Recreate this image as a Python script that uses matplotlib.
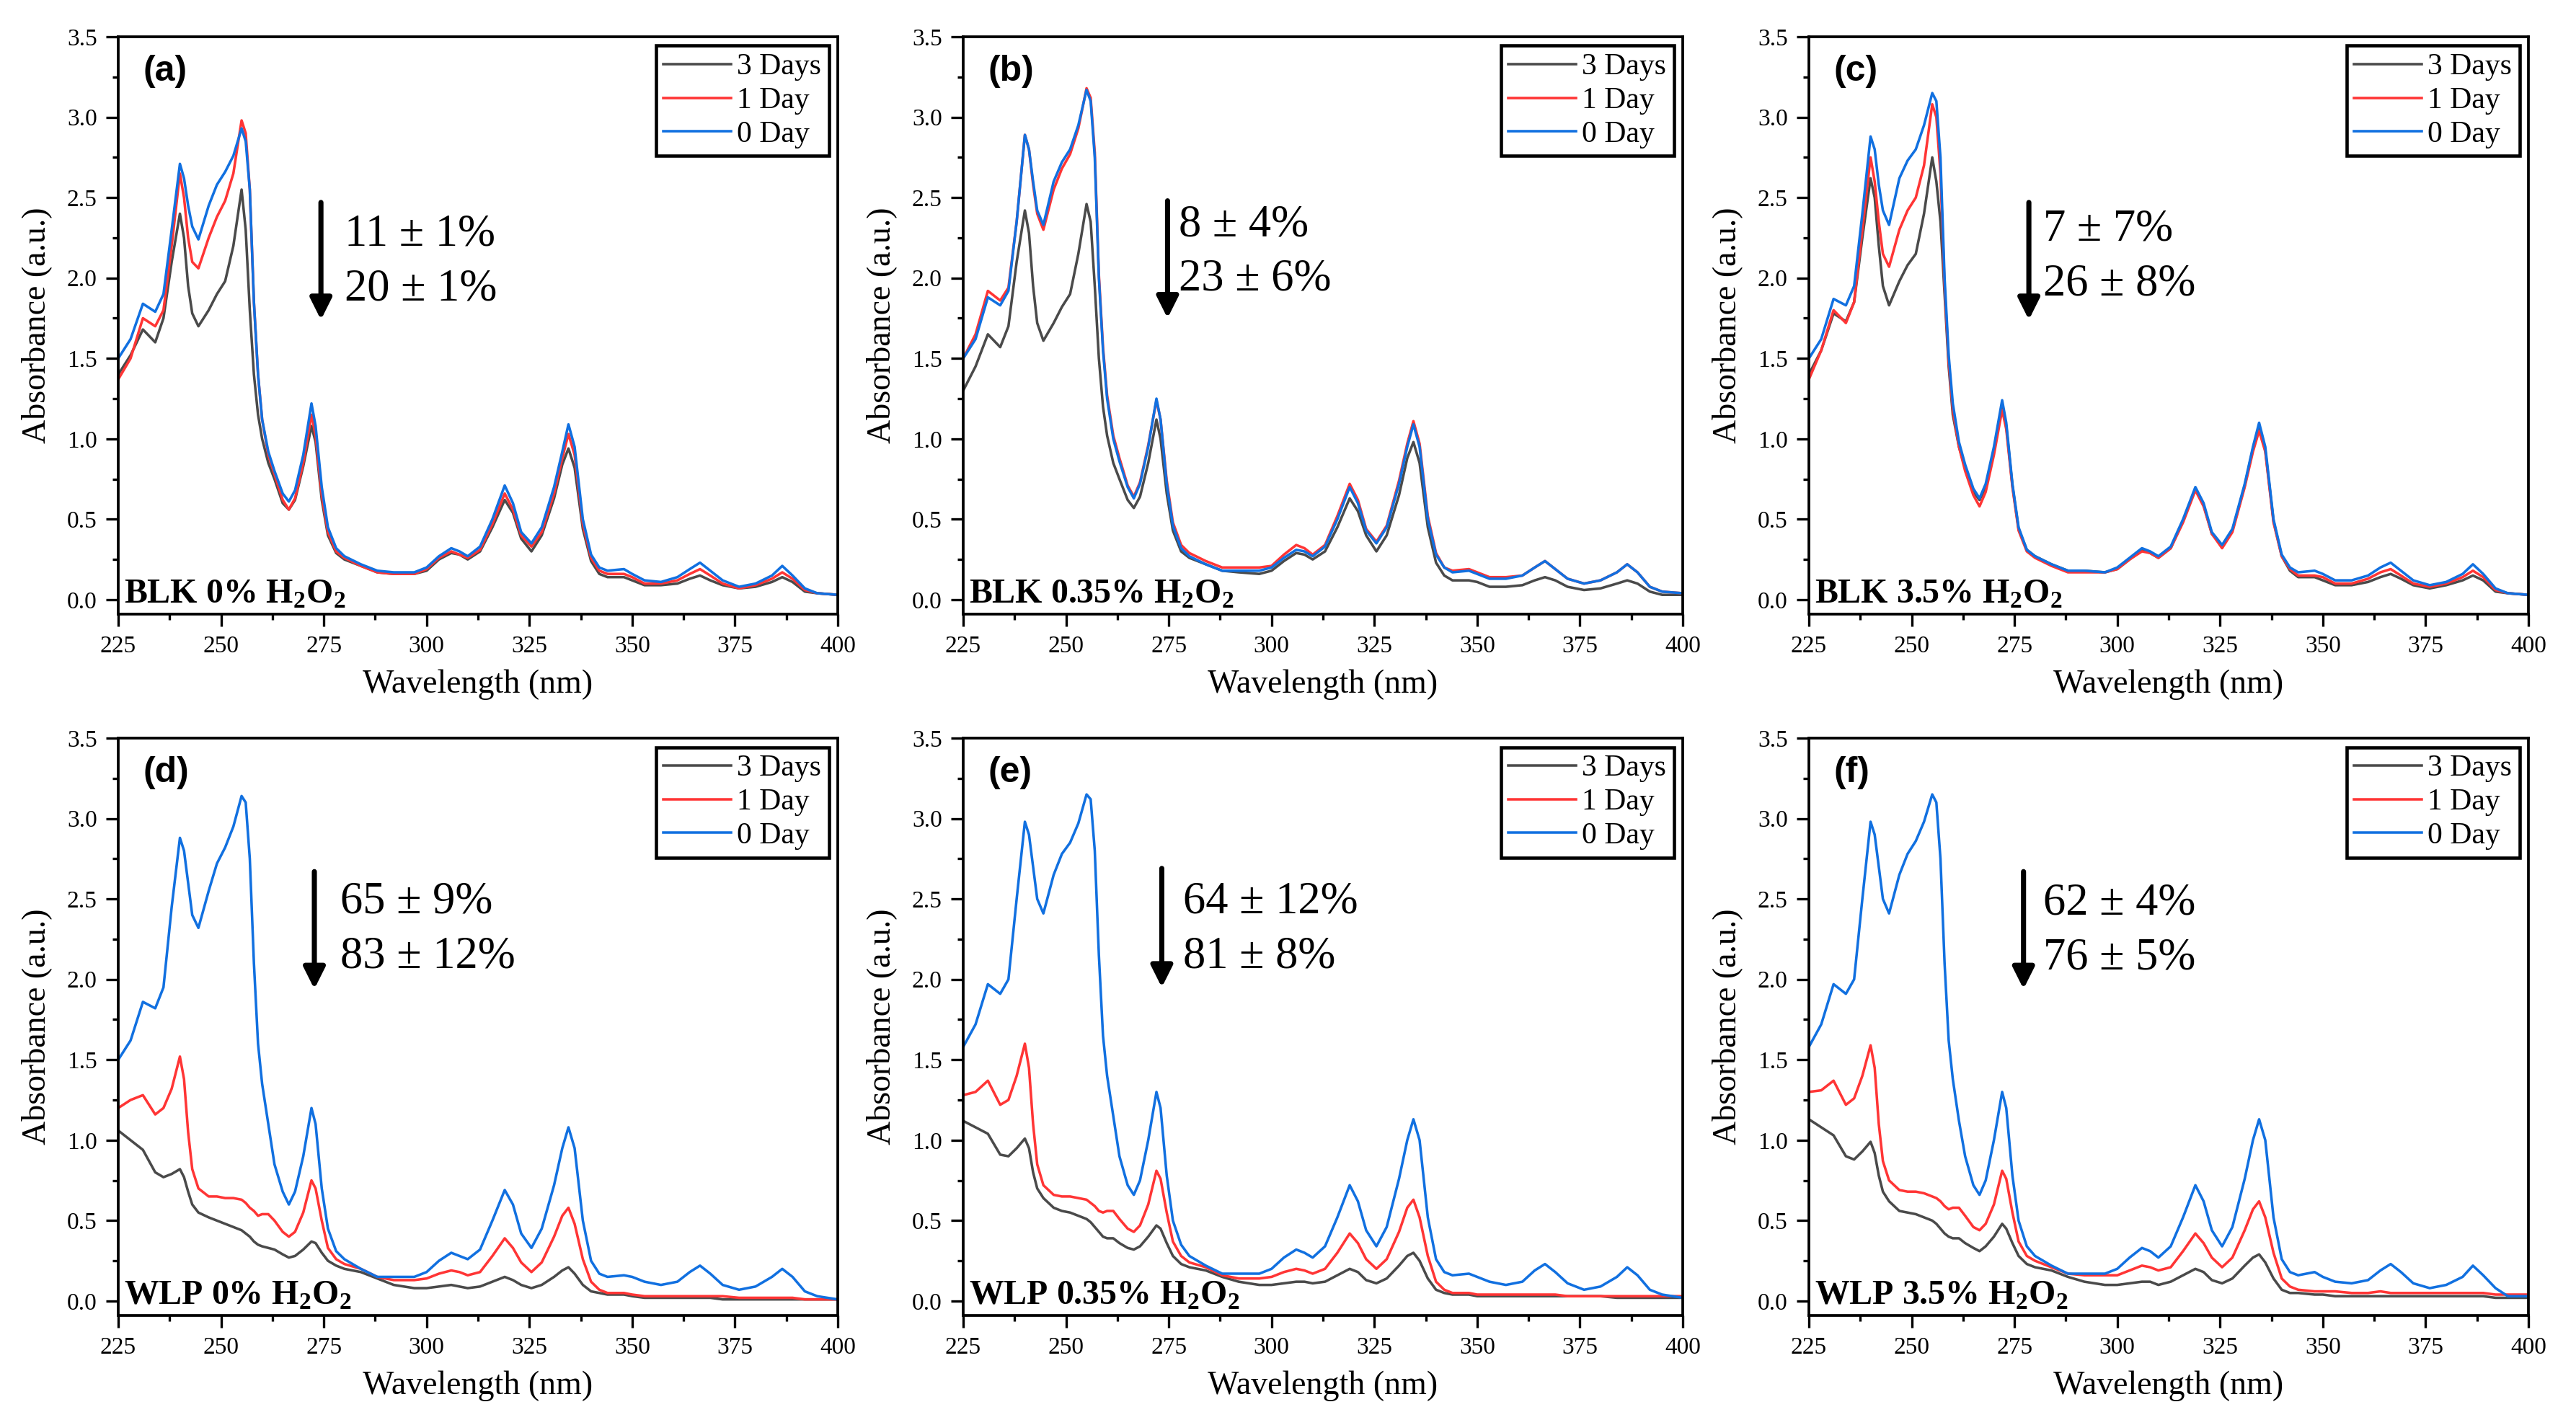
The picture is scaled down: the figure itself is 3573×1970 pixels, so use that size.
import matplotlib
matplotlib.use("Agg")
import matplotlib.pyplot as plt
from matplotlib.ticker import MultipleLocator
from matplotlib import font_manager

# make sure the serif font really exists (fails loudly otherwise)
font_manager.findfont('Liberation Serif', fallback_to_default=False)
font_manager.findfont('Liberation Sans', fallback_to_default=False)

plt.rcParams['font.family'] = ['Liberation Serif', 'DejaVu Serif']
plt.rcParams['mathtext.fontset'] = 'custom'
plt.rcParams['mathtext.rm'] = 'Liberation Serif'
plt.rcParams['mathtext.bf'] = 'Liberation Serif:bold'

# ---------------- data ----------------
wavelength = [225, 228, 231, 234, 236, 238,
              240, 241, 242, 243, 244.5,
              247, 249, 251, 253, 255,
              256, 257, 258, 259, 260,
              261.5, 263, 265, 266.5, 268,
              270, 272, 273, 274.5, 276,
              278, 280, 284, 288, 292,
              297, 300, 303, 306, 308,
              310, 313, 316, 319, 321,
              323, 325.5, 328, 331, 333,
              334.5, 336, 338, 340, 342,
              344, 348, 350, 353, 357,
              361, 364, 366.5, 369, 372,
              376, 380, 384, 386.5, 389,
              392, 395, 400]

series_labels = ["3 Days", "1 Day", "0 Day"]
series_colors = ["#4a4a4a", "#ff3535", "#1170e0"]

panel_letters = ["(a)", "(b)", "(c)", "(d)", "(e)", "(f)"]
panel_names = ["BLK 0% H$_\\mathbf{2}$O$_\\mathbf{2}$",
               "BLK 0.35% H$_\\mathbf{2}$O$_\\mathbf{2}$",
               "BLK 3.5% H$_\\mathbf{2}$O$_\\mathbf{2}$",
               "WLP 0% H$_\\mathbf{2}$O$_\\mathbf{2}$",
               "WLP 0.35% H$_\\mathbf{2}$O$_\\mathbf{2}$",
               "WLP 3.5% H$_\\mathbf{2}$O$_\\mathbf{2}$"]
loss_line1 = ["11 \u00b1 1%", "8 \u00b1 4%", "7 \u00b1 7%",
              "65 \u00b1 9%", "64 \u00b1 12%", "62 \u00b1 4%"]
loss_line2 = ["20 \u00b1 1%", "23 \u00b1 6%", "26 \u00b1 8%",
              "83 \u00b1 12%", "81 \u00b1 8%", "76 \u00b1 5%"]

# (a) BLK 0% H2O2
blk0_3d = [1.40, 1.52, 1.68, 1.60, 1.75, 2.10,
           2.40, 2.25, 1.95, 1.78, 1.70,
           1.80, 1.90, 1.98, 2.20, 2.55,
           2.30, 1.80, 1.40, 1.15, 1.00,
           0.85, 0.75, 0.60, 0.56, 0.62,
           0.83, 1.08, 0.98, 0.62, 0.40,
           0.29, 0.25, 0.21, 0.17, 0.16,
           0.16, 0.18, 0.25, 0.29, 0.28,
           0.25, 0.30, 0.45, 0.62, 0.54,
           0.38, 0.30, 0.40, 0.63, 0.84,
           0.94, 0.82, 0.44, 0.24, 0.16,
           0.14, 0.14, 0.12, 0.09, 0.09,
           0.10, 0.13, 0.15, 0.12, 0.09,
           0.07, 0.08, 0.11, 0.14, 0.11,
           0.05, 0.04, 0.03]
blk0_1d = [1.37, 1.50, 1.75, 1.70, 1.80, 2.20,
           2.65, 2.50, 2.25, 2.10, 2.06,
           2.25, 2.38, 2.48, 2.65, 2.98,
           2.90, 2.55, 1.85, 1.40, 1.12,
           0.90, 0.78, 0.62, 0.56, 0.63,
           0.85, 1.15, 1.02, 0.65, 0.42,
           0.30, 0.26, 0.21, 0.17, 0.16,
           0.16, 0.19, 0.26, 0.30, 0.28,
           0.26, 0.31, 0.47, 0.66, 0.56,
           0.40, 0.33, 0.42, 0.66, 0.88,
           1.03, 0.90, 0.47, 0.26, 0.18,
           0.16, 0.16, 0.14, 0.10, 0.10,
           0.12, 0.16, 0.19, 0.15, 0.10,
           0.07, 0.09, 0.13, 0.17, 0.13,
           0.06, 0.04, 0.03]
blk0_0d = [1.50, 1.62, 1.84, 1.79, 1.90, 2.30,
           2.71, 2.62, 2.45, 2.32, 2.24,
           2.45, 2.58, 2.66, 2.76, 2.93,
           2.85, 2.55, 1.85, 1.40, 1.12,
           0.92, 0.80, 0.66, 0.61, 0.68,
           0.90, 1.22, 1.08, 0.70, 0.45,
           0.32, 0.27, 0.22, 0.18, 0.17,
           0.17, 0.20, 0.27, 0.32, 0.30,
           0.27, 0.33, 0.50, 0.71, 0.60,
           0.42, 0.35, 0.45, 0.70, 0.92,
           1.09, 0.95, 0.50, 0.28, 0.20,
           0.18, 0.19, 0.16, 0.12, 0.11,
           0.14, 0.19, 0.23, 0.18, 0.12,
           0.08, 0.10, 0.15, 0.21, 0.15,
           0.07, 0.04, 0.03]

# (b) BLK 0.35% H2O2
blk035_3d = [1.30, 1.45, 1.65, 1.57, 1.70, 2.10,
             2.42, 2.28, 1.95, 1.72, 1.61,
             1.72, 1.82, 1.90, 2.15, 2.46,
             2.35, 1.95, 1.50, 1.20, 1.02,
             0.85, 0.75, 0.62, 0.57, 0.64,
             0.85, 1.12, 1.00, 0.66, 0.43,
             0.30, 0.26, 0.22, 0.18, 0.17,
             0.16, 0.18, 0.24, 0.29, 0.28,
             0.25, 0.30, 0.45, 0.63, 0.55,
             0.40, 0.30, 0.40, 0.65, 0.88,
             0.98, 0.85, 0.45, 0.23, 0.15,
             0.12, 0.12, 0.11, 0.08, 0.08,
             0.09, 0.12, 0.14, 0.12, 0.08,
             0.06, 0.07, 0.10, 0.12, 0.10,
             0.05, 0.03, 0.03]
blk035_1d = [1.50, 1.65, 1.92, 1.86, 1.94, 2.35,
             2.89, 2.80, 2.58, 2.40, 2.30,
             2.55, 2.68, 2.77, 2.93, 3.18,
             3.12, 2.78, 2.02, 1.57, 1.27,
             1.02, 0.88, 0.71, 0.64, 0.73,
             0.96, 1.24, 1.12, 0.74, 0.48,
             0.34, 0.29, 0.24, 0.20, 0.20,
             0.20, 0.21, 0.28, 0.34, 0.32,
             0.28, 0.34, 0.52, 0.72, 0.62,
             0.44, 0.36, 0.46, 0.74, 0.97,
             1.11, 0.97, 0.52, 0.29, 0.20,
             0.18, 0.19, 0.17, 0.14, 0.14,
             0.15, 0.20, 0.24, 0.19, 0.13,
             0.10, 0.12, 0.17, 0.22, 0.17,
             0.08, 0.05, 0.04]
blk035_0d = [1.50, 1.62, 1.88, 1.83, 1.92, 2.35,
             2.89, 2.80, 2.60, 2.42, 2.33,
             2.60, 2.72, 2.80, 2.95, 3.17,
             3.10, 2.75, 2.00, 1.55, 1.25,
             1.00, 0.86, 0.70, 0.63, 0.72,
             0.95, 1.25, 1.12, 0.72, 0.46,
             0.32, 0.27, 0.22, 0.18, 0.18,
             0.18, 0.20, 0.26, 0.31, 0.30,
             0.27, 0.33, 0.50, 0.70, 0.60,
             0.43, 0.35, 0.45, 0.72, 0.95,
             1.09, 0.95, 0.50, 0.28, 0.20,
             0.17, 0.18, 0.16, 0.13, 0.13,
             0.15, 0.20, 0.24, 0.19, 0.13,
             0.10, 0.12, 0.17, 0.22, 0.17,
             0.08, 0.05, 0.04]

# (c) BLK 3.5% H2O2
blk35_3d = [1.40, 1.55, 1.78, 1.73, 1.85, 2.25,
            2.62, 2.50, 2.20, 1.95, 1.83,
            1.98, 2.08, 2.15, 2.40, 2.75,
            2.60, 2.35, 1.90, 1.45, 1.15,
            0.95, 0.82, 0.67, 0.62, 0.70,
            0.93, 1.22, 1.08, 0.71, 0.44,
            0.31, 0.27, 0.22, 0.18, 0.18,
            0.17, 0.19, 0.25, 0.31, 0.29,
            0.26, 0.32, 0.49, 0.69, 0.59,
            0.41, 0.33, 0.43, 0.71, 0.94,
            1.08, 0.93, 0.49, 0.27, 0.18,
            0.14, 0.14, 0.12, 0.09, 0.09,
            0.11, 0.14, 0.16, 0.13, 0.09,
            0.07, 0.09, 0.12, 0.15, 0.12,
            0.05, 0.04, 0.03]
blk35_1d = [1.37, 1.55, 1.80, 1.72, 1.85, 2.30,
            2.75, 2.60, 2.35, 2.15, 2.07,
            2.30, 2.42, 2.50, 2.70, 3.08,
            3.00, 2.65, 1.95, 1.48, 1.18,
            0.95, 0.80, 0.65, 0.58, 0.67,
            0.90, 1.18, 1.06, 0.70, 0.43,
            0.30, 0.26, 0.21, 0.17, 0.17,
            0.17, 0.19, 0.25, 0.30, 0.29,
            0.26, 0.32, 0.48, 0.68, 0.58,
            0.41, 0.32, 0.42, 0.70, 0.92,
            1.05, 0.92, 0.48, 0.27, 0.19,
            0.15, 0.15, 0.14, 0.10, 0.10,
            0.13, 0.17, 0.19, 0.15, 0.10,
            0.08, 0.10, 0.14, 0.18, 0.14,
            0.06, 0.04, 0.03]
blk35_0d = [1.50, 1.62, 1.87, 1.83, 1.95, 2.40,
            2.88, 2.80, 2.58, 2.42, 2.33,
            2.62, 2.73, 2.80, 2.95, 3.15,
            3.10, 2.75, 2.00, 1.52, 1.22,
            0.98, 0.84, 0.69, 0.63, 0.72,
            0.95, 1.24, 1.10, 0.72, 0.45,
            0.31, 0.27, 0.22, 0.18, 0.18,
            0.17, 0.20, 0.26, 0.32, 0.30,
            0.27, 0.33, 0.50, 0.70, 0.60,
            0.42, 0.34, 0.44, 0.72, 0.95,
            1.10, 0.95, 0.50, 0.28, 0.20,
            0.17, 0.18, 0.16, 0.12, 0.12,
            0.15, 0.20, 0.23, 0.18, 0.12,
            0.09, 0.11, 0.16, 0.22, 0.16,
            0.07, 0.04, 0.03]

# (d) WLP 0% H2O2
wlp0_3d = [1.06, 1.00, 0.94, 0.80, 0.77, 0.79,
           0.82, 0.77, 0.68, 0.60, 0.55,
           0.52, 0.50, 0.48, 0.46, 0.44,
           0.42, 0.40, 0.37, 0.35, 0.34,
           0.33, 0.32, 0.29, 0.27, 0.28,
           0.32, 0.37, 0.36, 0.30, 0.25,
           0.22, 0.20, 0.18, 0.14, 0.10,
           0.08, 0.08, 0.09, 0.10, 0.09,
           0.08, 0.09, 0.12, 0.15, 0.13,
           0.10, 0.08, 0.10, 0.15, 0.19,
           0.21, 0.17, 0.10, 0.06, 0.05,
           0.04, 0.04, 0.03, 0.02, 0.02,
           0.02, 0.02, 0.02, 0.02, 0.01,
           0.01, 0.01, 0.01, 0.01, 0.01,
           0.01, 0.01, 0.01]
wlp0_1d = [1.20, 1.25, 1.28, 1.16, 1.20, 1.32,
           1.52, 1.38, 1.05, 0.82, 0.70,
           0.65, 0.65, 0.64, 0.64, 0.63,
           0.61, 0.58, 0.56, 0.53, 0.54,
           0.54, 0.50, 0.43, 0.40, 0.43,
           0.55, 0.75, 0.70, 0.50, 0.33,
           0.26, 0.23, 0.20, 0.15, 0.13,
           0.13, 0.14, 0.17, 0.19, 0.18,
           0.16, 0.18, 0.28, 0.39, 0.33,
           0.24, 0.18, 0.24, 0.40, 0.53,
           0.58, 0.48, 0.26, 0.12, 0.07,
           0.05, 0.05, 0.04, 0.03, 0.03,
           0.03, 0.03, 0.03, 0.03, 0.03,
           0.02, 0.02, 0.02, 0.02, 0.02,
           0.01, 0.01, 0.01]
wlp0_0d = [1.50, 1.62, 1.86, 1.82, 1.95, 2.45,
           2.88, 2.80, 2.60, 2.40, 2.32,
           2.55, 2.72, 2.82, 2.95, 3.14,
           3.10, 2.75, 2.10, 1.60, 1.35,
           1.10, 0.85, 0.68, 0.60, 0.68,
           0.90, 1.20, 1.10, 0.70, 0.45,
           0.31, 0.26, 0.20, 0.15, 0.15,
           0.15, 0.18, 0.25, 0.30, 0.28,
           0.26, 0.32, 0.50, 0.69, 0.60,
           0.42, 0.33, 0.45, 0.72, 0.95,
           1.08, 0.95, 0.50, 0.25, 0.17,
           0.15, 0.16, 0.15, 0.12, 0.10,
           0.12, 0.18, 0.22, 0.17, 0.10,
           0.07, 0.09, 0.15, 0.20, 0.15,
           0.06, 0.03, 0.01]

# (e) WLP 0.35% H2O2
wlp035_3d = [1.12, 1.08, 1.04, 0.91, 0.90, 0.95,
             1.01, 0.95, 0.80, 0.70, 0.64,
             0.58, 0.56, 0.55, 0.53, 0.51,
             0.49, 0.46, 0.43, 0.40, 0.39,
             0.39, 0.36, 0.33, 0.32, 0.34,
             0.40, 0.47, 0.45, 0.36, 0.28,
             0.23, 0.21, 0.19, 0.15, 0.12,
             0.10, 0.10, 0.11, 0.12, 0.12,
             0.11, 0.12, 0.16, 0.20, 0.18,
             0.13, 0.11, 0.14, 0.22, 0.28,
             0.30, 0.25, 0.14, 0.07, 0.05,
             0.04, 0.04, 0.03, 0.03, 0.03,
             0.03, 0.03, 0.03, 0.03, 0.03,
             0.03, 0.03, 0.02, 0.02, 0.02,
             0.02, 0.02, 0.02]
wlp035_1d = [1.28, 1.30, 1.37, 1.22, 1.25, 1.40,
             1.60, 1.45, 1.10, 0.85, 0.72,
             0.66, 0.65, 0.65, 0.64, 0.63,
             0.61, 0.59, 0.56, 0.55, 0.56,
             0.56, 0.51, 0.45, 0.43, 0.47,
             0.60, 0.81, 0.76, 0.55, 0.37,
             0.28, 0.24, 0.21, 0.16, 0.14,
             0.14, 0.15, 0.18, 0.20, 0.19,
             0.17, 0.20, 0.30, 0.42, 0.36,
             0.26, 0.20, 0.26, 0.43, 0.58,
             0.63, 0.52, 0.28, 0.12, 0.07,
             0.05, 0.05, 0.04, 0.04, 0.04,
             0.04, 0.04, 0.04, 0.04, 0.03,
             0.03, 0.03, 0.03, 0.03, 0.03,
             0.03, 0.03, 0.03]
wlp035_0d = [1.58, 1.72, 1.97, 1.91, 2.00, 2.50,
             2.98, 2.90, 2.70, 2.50, 2.41,
             2.65, 2.78, 2.85, 2.97, 3.15,
             3.12, 2.80, 2.15, 1.65, 1.40,
             1.15, 0.90, 0.72, 0.66, 0.75,
             1.00, 1.30, 1.20, 0.78, 0.50,
             0.35, 0.28, 0.22, 0.17, 0.17,
             0.17, 0.20, 0.27, 0.32, 0.30,
             0.27, 0.34, 0.52, 0.72, 0.62,
             0.44, 0.34, 0.46, 0.76, 1.00,
             1.13, 1.00, 0.52, 0.26, 0.18,
             0.16, 0.17, 0.15, 0.12, 0.10,
             0.12, 0.19, 0.23, 0.18, 0.11,
             0.07, 0.09, 0.15, 0.21, 0.16,
             0.07, 0.04, 0.02]

# (f) WLP 3.5% H2O2
wlp35_3d = [1.13, 1.08, 1.03, 0.90, 0.88, 0.93,
            0.99, 0.92, 0.78, 0.68, 0.62,
            0.56, 0.55, 0.54, 0.52, 0.50,
            0.48, 0.45, 0.42, 0.40, 0.39,
            0.39, 0.36, 0.33, 0.31, 0.34,
            0.40, 0.48, 0.45, 0.36, 0.28,
            0.23, 0.21, 0.19, 0.15, 0.12,
            0.10, 0.10, 0.11, 0.12, 0.12,
            0.10, 0.12, 0.16, 0.20, 0.18,
            0.13, 0.11, 0.14, 0.22, 0.27,
            0.29, 0.24, 0.14, 0.07, 0.05,
            0.05, 0.04, 0.04, 0.03, 0.03,
            0.03, 0.03, 0.03, 0.03, 0.03,
            0.03, 0.03, 0.03, 0.03, 0.03,
            0.02, 0.02, 0.02]
wlp35_1d = [1.30, 1.31, 1.37, 1.22, 1.26, 1.40,
            1.59, 1.45, 1.10, 0.87, 0.75,
            0.69, 0.68, 0.68, 0.67, 0.65,
            0.64, 0.62, 0.59, 0.57, 0.58,
            0.58, 0.53, 0.46, 0.44, 0.48,
            0.60, 0.81, 0.76, 0.55, 0.37,
            0.28, 0.25, 0.21, 0.17, 0.16,
            0.16, 0.16, 0.19, 0.22, 0.21,
            0.19, 0.21, 0.31, 0.42, 0.36,
            0.27, 0.21, 0.27, 0.44, 0.57,
            0.62, 0.52, 0.30, 0.14, 0.09,
            0.07, 0.06, 0.06, 0.06, 0.05,
            0.05, 0.06, 0.05, 0.05, 0.05,
            0.05, 0.05, 0.05, 0.05, 0.05,
            0.04, 0.04, 0.04]
wlp35_0d = [1.58, 1.72, 1.97, 1.91, 2.00, 2.50,
            2.98, 2.90, 2.70, 2.50, 2.41,
            2.65, 2.78, 2.86, 2.98, 3.15,
            3.10, 2.75, 2.10, 1.62, 1.38,
            1.12, 0.90, 0.72, 0.66, 0.75,
            1.00, 1.30, 1.20, 0.78, 0.50,
            0.34, 0.28, 0.22, 0.17, 0.17,
            0.17, 0.20, 0.27, 0.33, 0.31,
            0.27, 0.34, 0.52, 0.72, 0.62,
            0.44, 0.34, 0.46, 0.76, 1.00,
            1.13, 1.00, 0.52, 0.26, 0.18,
            0.16, 0.18, 0.15, 0.12, 0.11,
            0.13, 0.19, 0.23, 0.18, 0.11,
            0.08, 0.10, 0.15, 0.22, 0.16,
            0.08, 0.03, 0.03]

# annotation anchors (data coords): arrow x, arrow top, arrow tip, text x, text y1, text y2
arrow_x = [274.3, 274.7, 278.5, 272.7, 273.3, 277.2]
arrow_top = [2.47, 2.48, 2.47, 2.67, 2.69, 2.67]
arrow_tip = [1.74, 1.75, 1.74, 1.94, 1.95, 1.94]
text_x = [280.0, 277.5, 282.0, 279.0, 278.4, 282.0]
text_y1 = [2.27, 2.33, 2.30, 2.48, 2.48, 2.47]
text_y2 = [1.93, 1.99, 1.96, 2.14, 2.14, 2.13]

panels = [
    (blk0_3d, blk0_1d, blk0_0d),
    (blk035_3d, blk035_1d, blk035_0d),
    (blk35_3d, blk35_1d, blk35_0d),
    (wlp0_3d, wlp0_1d, wlp0_0d),
    (wlp035_3d, wlp035_1d, wlp035_0d),
    (wlp35_3d, wlp35_1d, wlp35_0d),
]
for p in panels:
    for s in p:
        assert len(s) == len(wavelength), (len(s), len(wavelength))

# ---------------- figure ----------------
W, H = 3573, 1970
dpi = 300
fig = plt.figure(figsize=(W / dpi, H / dpi), dpi=dpi)

col_left = [164, 1336, 2509]
ax_w = 998
row_top = [51, 1024]
ax_h = 801

for i in range(6):
    r, c = divmod(i, 3)
    left = col_left[c] / W
    bottom = 1 - (row_top[r] + ax_h) / H
    ax = fig.add_axes([left, bottom, ax_w / W, ax_h / H])

    for s, lab, col in zip(panels[i], series_labels, series_colors):
        ax.plot(wavelength, s, color=col, lw=0.85, label=lab)

    ax.set_xlim(225, 400)
    ax.set_ylim(-0.09, 3.5)
    ax.xaxis.set_major_locator(MultipleLocator(25))
    ax.xaxis.set_minor_locator(MultipleLocator(12.5))
    ax.yaxis.set_major_locator(MultipleLocator(0.5))
    ax.yaxis.set_minor_locator(MultipleLocator(0.25))
    ax.yaxis.set_major_formatter(plt.FuncFormatter(lambda v, p: f"{v:.1f}"))
    ax.tick_params(which='both', direction='out', top=False, right=False,
                   width=0.8, labelsize=8, pad=3)
    ax.tick_params(which='major', length=4.0)
    ax.tick_params(which='minor', length=2.0)
    for sp in ax.spines.values():
        sp.set_linewidth(0.9)

    ax.set_xlabel("Wavelength (nm)", fontsize=11, labelpad=4)
    ax.set_ylabel("Absorbance (a.u.)", fontsize=11, labelpad=5)

    leg = ax.legend(loc='upper right', fontsize=10, frameon=True, fancybox=False,
                    edgecolor='black', framealpha=1, handlelength=2.25,
                    handletextpad=0.2, labelspacing=0.2, borderpad=0.25,
                    borderaxespad=0.3)
    leg.get_frame().set_linewidth(1.1)

    ax.text(0.035, 0.94, panel_letters[i], transform=ax.transAxes,
            fontsize=12, fontweight='bold', family=['Liberation Sans', 'DejaVu Sans'],
            ha='left', va='center')
    ax.text(0.008, 0.02, panel_names[i], transform=ax.transAxes,
            fontsize=11.5, fontweight='bold', ha='left', va='baseline')

    ax.annotate("", xy=(arrow_x[i], arrow_tip[i]), xytext=(arrow_x[i], arrow_top[i]),
                arrowprops=dict(arrowstyle='-|>', color='black', lw=1.7,
                                mutation_scale=15, shrinkA=0, shrinkB=0))
    ax.text(text_x[i], text_y1[i], loss_line1[i], fontsize=15, ha='left', va='center')
    ax.text(text_x[i], text_y2[i], loss_line2[i], fontsize=15, ha='left', va='center')

fig.savefig("out.png", dpi=dpi)
